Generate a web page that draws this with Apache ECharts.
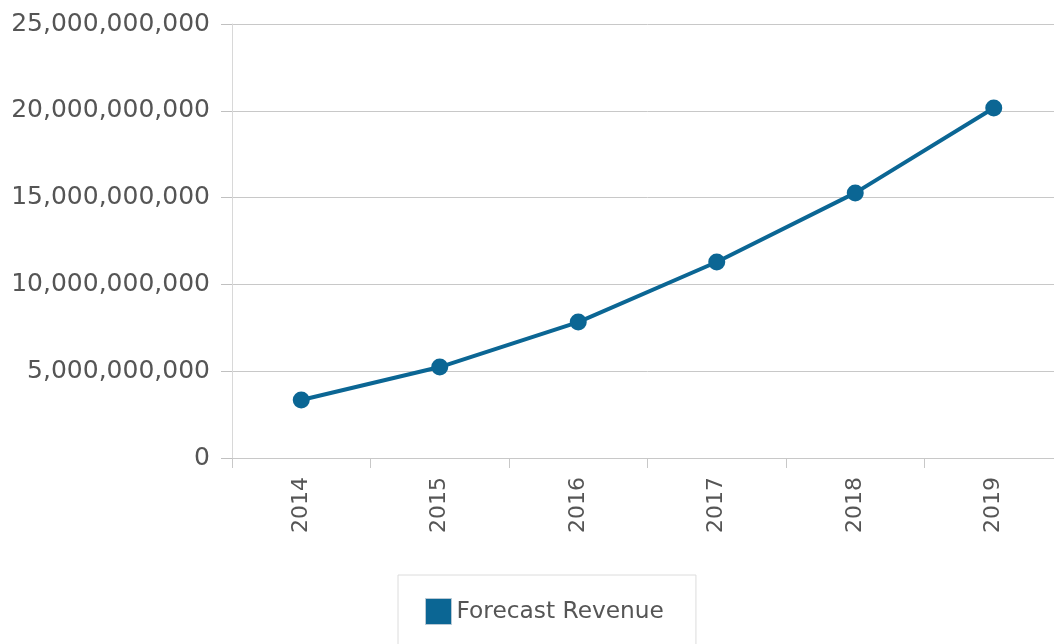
<!DOCTYPE html>
<html>
<head>
<meta charset="utf-8">
<script src="https://cdn.jsdelivr.net/npm/echarts@6/dist/echarts.min.js"></script>
<style>
html,body{margin:0;padding:0;background:#fff;overflow:hidden;width:1054px;height:644px;}
#chart{width:1063px;height:644px;}
</style>
</head>
<body>
<div id="chart"></div>
<script>
const categories = ['2014', '2015', '2016', '2017', '2018', '2019'];
const revenue = [3.34e9, 5.24e9, 7.83e9, 11.29e9, 15.27e9, 20.16e9];
const seriesName = 'Forecast Revenue';
const yMin = 0, yMax = 25e9, yStep = 5e9;

function fmt(v) {
  return String(Math.round(v)).replace(/\B(?=(\d{3})+(?!\d))/g, ',');
}

const chart = echarts.init(document.getElementById('chart'));
chart.setOption({
  animation: false,
  backgroundColor: '#fff',
  textStyle: { fontFamily: 'DejaVu Sans' },
  grid: { left: 232, top: 24, right: 0, bottom: 186, containLabel: false },
  legend: {
    data: [seriesName],
    left: 398, top: 575,
    padding: [23, 32, 22, 27],
    borderColor: '#dcdcdc', borderWidth: 1,
    icon: 'rect', itemWidth: 26, itemHeight: 26,
    itemStyle: { color: '#0b6694', borderColor: '#b8c8d4', borderWidth: 1 },
    textStyle: { fontSize: 23.3, color: '#555', fontFamily: 'DejaVu Sans' }
  },
  xAxis: {
    type: 'category',
    data: categories,
    boundaryGap: true,
    axisLine: { lineStyle: { color: '#c8c8c8', width: 1 } },
    axisTick: { show: true, length: 10, lineStyle: { color: '#c8c8c8' } },
    axisLabel: { rotate: 90, margin: 19, fontSize: 22, color: '#555', fontFamily: 'DejaVu Sans' },
    splitLine: { show: false }
  },
  yAxis: {
    type: 'value',
    min: yMin, max: yMax, interval: yStep,
    axisLine: { show: true, lineStyle: { color: '#d8d8d8', width: 1 } },
    axisTick: { show: true, length: 11, lineStyle: { color: '#c0c0c0' } },
    axisLabel: { margin: 22, fontSize: 25, color: '#555', fontFamily: 'DejaVu Sans', formatter: fmt },
    splitLine: { show: true, lineStyle: { color: '#c8c8c8', width: 1 } }
  },
  series: [{
    name: seriesName,
    type: 'line',
    data: revenue,
    color: '#0b6694',
    lineStyle: { width: 4, color: '#0b6694' },
    symbol: 'circle', symbolSize: 17,
    itemStyle: { color: '#0b6694' }
  }]
});
</script>
</body>
</html>
